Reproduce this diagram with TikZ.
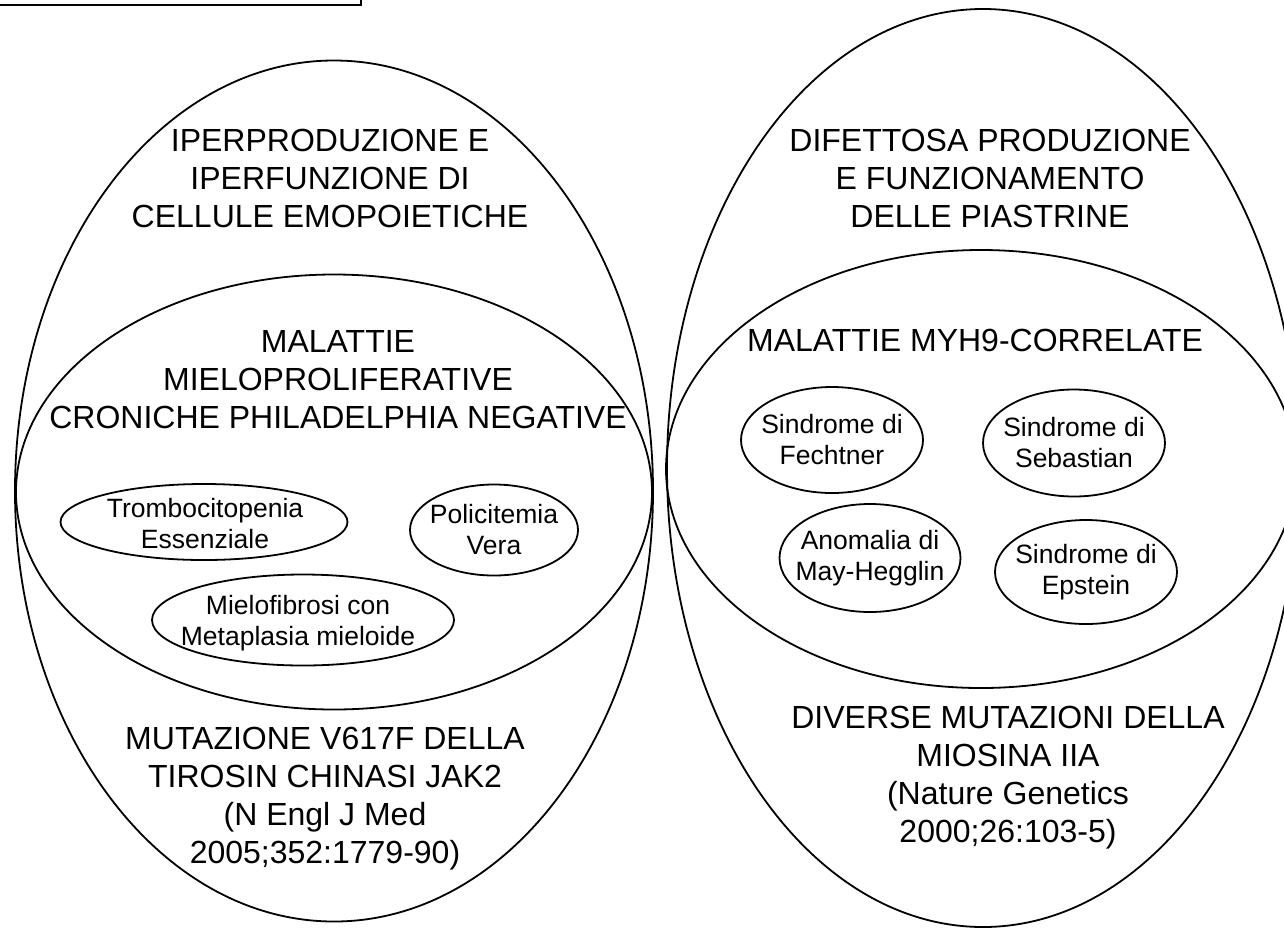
\documentclass[tikz,border=0pt]{standalone}
\usepackage{fontspec}
\setmainfont{Liberation Sans}
\usetikzlibrary{shapes.geometric}
\begin{document}
\begin{tikzpicture}[x=1pt,y=-1pt,
  blob/.style={ellipse,draw,line width=1.8pt,inner sep=0pt},
  big/.style={align=center,font=\fontsize{32}{38}\selectfont},
  small/.style={align=center,font=\fontsize{26.5}{31}\selectfont}
  ]
  \useasboundingbox (0,0) rectangle (1284,930);
  \clip (0,0) rectangle (1284,930);

  \node[draw,line width=2pt,minimum width=420pt,minimum height=40pt,anchor=south east] (titolo) at (362,6) {};

  % left side
  \node[blob,minimum width=638pt,minimum height=861pt] (iper) at (334,491) {};
  \node[blob,minimum width=636pt,minimum height=435pt] (mpn) at (334,492) {};
  \node[big] (iperlab) at (330,178) {IPERPRODUZIONE E\\IPERFUNZIONE DI\\CELLULE EMOPOIETICHE};
  \node[big] (mpnlab) at (338,380) {MALATTIE\\MIELOPROLIFERATIVE\\CRONICHE PHILADELPHIA NEGATIVE};
  \node[blob,minimum width=287pt,minimum height=76pt] (trombo) at (204,522) {};
  \node[small] at (205,524) {Trombocitopenia\\Essenziale};
  \node[blob,minimum width=168pt,minimum height=91pt] (polic) at (494,530) {};
  \node[small] at (polic) {Policitemia\\Vera};
  \node[blob,minimum width=302pt,minimum height=91pt] (mfib) at (303,620) {};
  \node[small] (mfiblab) at (298,623) {Mielofibrosi con\\Metaplasia mieloide};
  \node[big] (jak) at (325,799) {MUTAZIONE V617F DELLA\\TIROSIN CHINASI JAK2\\(N Engl J Med\\2005;352:1779-90)};

  % right side
  \node[blob,minimum width=632pt,minimum height=918pt] (difett) at (983,468) {};
  \node[blob,minimum width=630pt,minimum height=438pt] (myh) at (981,469) {};
  \node[big] (difettlab) at (990,178) {DIFETTOSA PRODUZIONE\\E FUNZIONAMENTO\\DELLE PIASTRINE};
  \node[big] (myhlab) at (975,340) {MALATTIE MYH9-CORRELATE};
  \node[blob,minimum width=182pt,minimum height=106pt] (fecht) at (832,440) {};
  \node[small] at (fecht) {Sindrome di\\Fechtner};
  \node[blob,minimum width=182pt,minimum height=107pt] (sebast) at (1074,443) {};
  \node[small] at (sebast) {Sindrome di\\Sebastian};
  \node[blob,minimum width=181pt,minimum height=108pt] (mayh) at (870,558) {};
  \node[small] at (mayh) {Anomalia di\\May-Hegglin};
  \node[blob,minimum width=182pt,minimum height=104pt] (epst) at (1086,572) {};
  \node[small] at (epst) {Sindrome di\\Epstein};
  \node[big] (miosina) at (1008,778) {DIVERSE MUTAZIONI DELLA\\MIOSINA IIA\\(Nature Genetics\\2000;26:103-5)};
\end{tikzpicture}
\end{document}
